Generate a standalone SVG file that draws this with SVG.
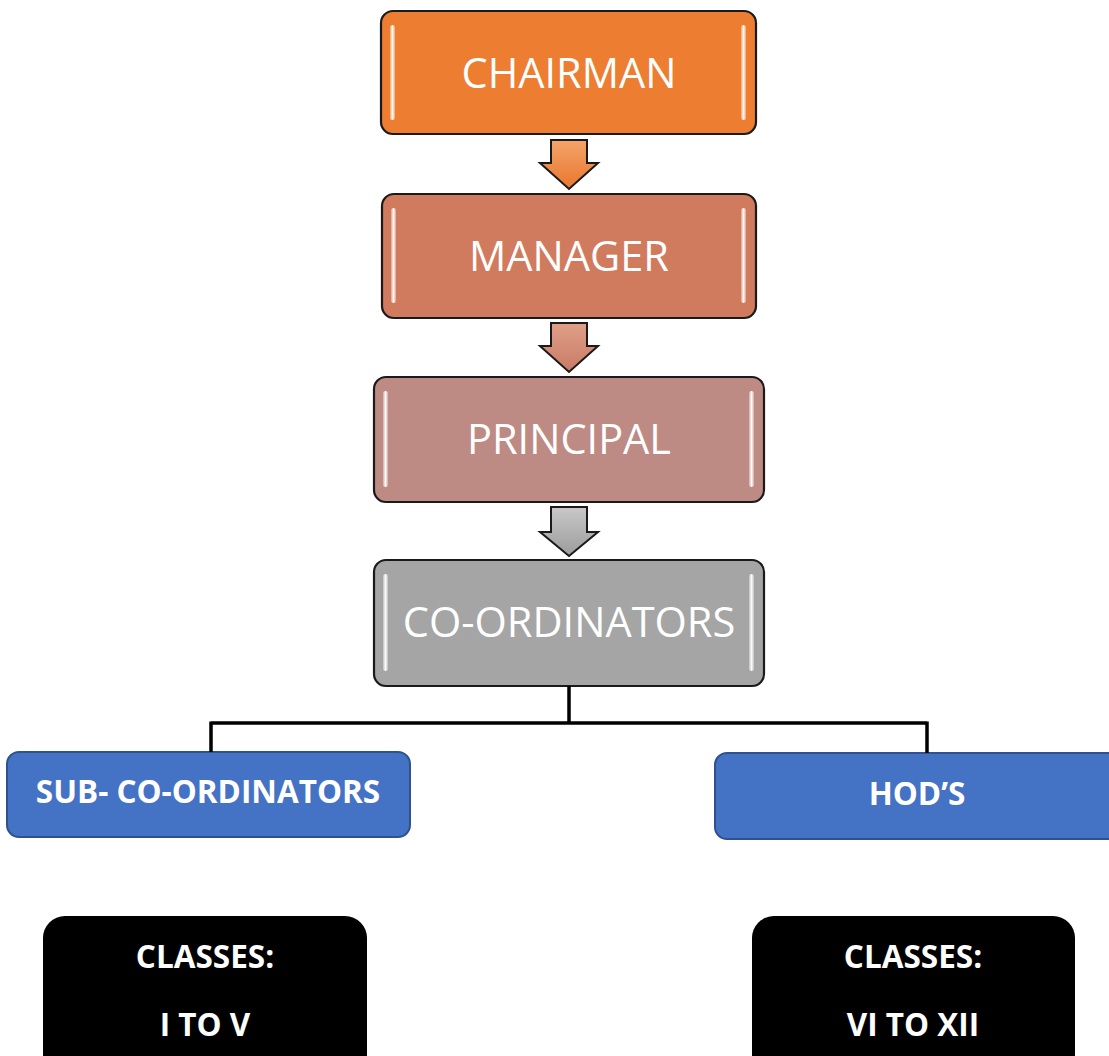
<svg xmlns="http://www.w3.org/2000/svg" width="1109" height="1056" viewBox="0 0 1109 1056">
<style>
.box{stroke:#1a1a1a;stroke-width:2.2}
.hl{fill:url(#hg)}
.big{font-family:"Open Sans","Liberation Sans",sans-serif;font-size:41.5px;fill:#fff;text-anchor:middle}
.bold{font-family:"Open Sans","Liberation Sans",sans-serif;font-weight:bold;font-size:31.5px;fill:#fff;text-anchor:middle}
.blue{fill:#4472C4;stroke:#2F528F;stroke-width:2}
.arr{stroke:#1a1a1a;stroke-width:2;stroke-linejoin:miter}
.conn{stroke:#000;stroke-width:3.5;fill:none}
</style>
<defs>
<linearGradient id="hg" x1="0" y1="0" x2="1" y2="0"><stop offset="0" stop-color="#fff" stop-opacity="0.3"/><stop offset="0.5" stop-color="#fff" stop-opacity="0.95"/><stop offset="1" stop-color="#fff" stop-opacity="0.3"/></linearGradient>
<linearGradient id="g1" x1="0" y1="0" x2="0" y2="1"><stop offset="0" stop-color="#F4A46A"/><stop offset="1" stop-color="#E8762D"/></linearGradient>
<linearGradient id="g2" x1="0" y1="0" x2="0" y2="1"><stop offset="0" stop-color="#E0A088"/><stop offset="1" stop-color="#C97A66"/></linearGradient>
<linearGradient id="g3" x1="0" y1="0" x2="0" y2="1"><stop offset="0" stop-color="#C8C8C8"/><stop offset="1" stop-color="#9C9C9C"/></linearGradient>
</defs>
<g id="chairman">
<rect class="box" x="381" y="11" width="375" height="123" rx="12" fill="#ED7D31"/>
<rect class="hl" x="390" y="25" width="5" height="95" rx="2.5"/>
<rect class="hl" x="741" y="25" width="5" height="95" rx="2.5"/>
<text class="big" x="569" y="88">CHAIRMAN</text>
</g>
<g id="manager">
<rect class="box" x="382" y="194" width="374" height="124" rx="12" fill="#D17B5E"/>
<rect class="hl" x="391" y="208" width="5" height="95" rx="2.5"/>
<rect class="hl" x="741" y="208" width="5" height="95" rx="2.5"/>
<text class="big" x="569" y="271">MANAGER</text>
</g>
<g id="principal">
<rect class="box" x="374" y="377" width="390" height="125" rx="12" fill="#BD8B84"/>
<rect class="hl" x="383" y="391" width="5" height="96" rx="2.5"/>
<rect class="hl" x="749" y="391" width="5" height="96" rx="2.5"/>
<text class="big" x="569" y="454">PRINCIPAL</text>
</g>
<g id="coordinators">
<rect class="box" x="374" y="560" width="390" height="126" rx="12" fill="#A5A5A5"/>
<rect class="hl" x="383" y="574" width="5" height="97" rx="2.5"/>
<rect class="hl" x="749" y="574" width="5" height="97" rx="2.5"/>
<text class="big" x="569" y="637">CO-ORDINATORS</text>
</g>
<g id="subcoordinators">
<rect class="blue" x="7" y="752" width="403" height="85" rx="12"/>
<text class="bold" x="208" y="803">SUB- CO-ORDINATORS</text>
</g>
<g id="hods">
<rect class="blue" x="715" y="753" width="410" height="86" rx="12"/>
<text class="bold" x="917" y="805">HOD’S</text>
</g>
<g id="classes1">
<rect x="43" y="916" width="324" height="160" rx="22" fill="#000"/>
<text class="bold" x="205" y="968">CLASSES:</text>
<text class="bold" x="205" y="1036">I TO V</text>
</g>
<g id="classes2">
<rect x="752" y="916" width="323" height="160" rx="22" fill="#000"/>
<text class="bold" x="913" y="968">CLASSES:</text>
<text class="bold" x="913" y="1036">VI TO XII</text>
</g>
<g id="connectors">
<path class="arr" fill="url(#g1)" d="M551 140 H587 V163 H598 L569 189 L540 163 H551 Z"/>
<path class="arr" fill="url(#g2)" d="M551 323 H587 V346 H598 L569 372 L540 346 H551 Z"/>
<path class="arr" fill="url(#g3)" d="M551 507 H587 V532 H598 L569 556 L540 532 H551 Z"/>
<path class="conn" d="M569 686 V723 M211 723 H927 M211 721.5 V752 M927 721.5 V753"/>
</g>
</svg>
